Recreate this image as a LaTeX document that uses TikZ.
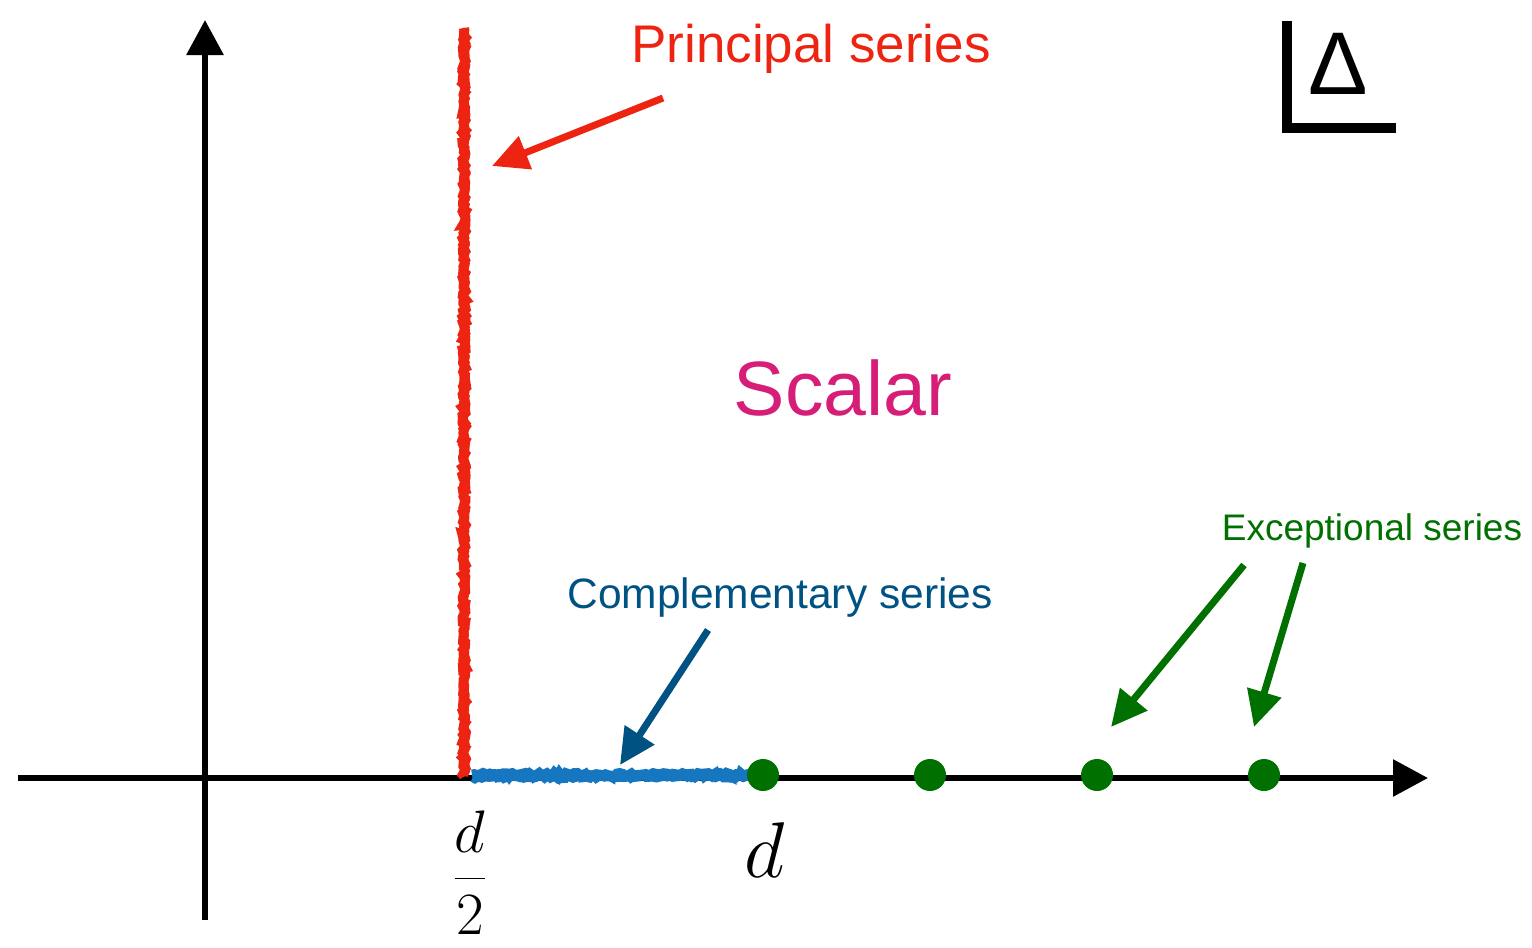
\documentclass[tikz,border=0pt]{standalone}
\usepackage{fix-cm}
\usepackage{amsmath}
\usepackage{fontspec}
\setmainfont{Liberation Sans}
\usetikzlibrary{arrows.meta,positioning,calc,decorations.pathmorphing}

\definecolor{prinred}{RGB}{238,36,18}
\definecolor{compblue}{RGB}{0,82,130}
\definecolor{compline}{RGB}{22,118,192}
\definecolor{excgreen}{RGB}{0,112,0}
\definecolor{scalarmag}{RGB}{214,30,120}

\begin{document}
\begin{tikzpicture}[
  x=1pt, y=-1pt,
  axis/.style={line width=6pt, -{Triangle[length=35pt, width=36pt]}},
  pointer/.style={line width=7pt, -{Triangle[length=36pt, width=34pt]}},
  rough/.style={decorate, decoration={random steps, segment length=2.5pt, amplitude=1.5pt}},
  lbl/.style={inner sep=0pt, anchor=base},
  dot/.style={circle, fill=excgreen, inner sep=0pt, minimum size=32pt}
]
\pgfmathsetseed{7}
\useasboundingbox (0,0) rectangle (1532,948);

% Axes
\coordinate (xstart) at (18,778);
\coordinate (xend) at (1428,778);
\coordinate (ystart) at (205,920);
\coordinate (yend) at (205,20);
\draw[axis] (xstart) -- (xend);
\draw[axis] (ystart) -- (yend);

% Series lines
\coordinate (half) at (464,776);
\coordinate (top) at (464,28);
\coordinate (compend) at (752,775);
\draw[compline, line width=11pt, rough] ($(half)+(8,-1)$) -- (compend);
\draw[compline, line width=6pt, rough] ($(half)+(8,3)$) -- ($(compend)+(0,3)$);
\draw[prinred, line width=10pt, rough] (half) -- (top);
\draw[prinred, line width=6pt, rough] ($(half)+(2,0)$) -- ($(top)+(2,0)$);

% Exceptional points
\node[dot] (p1) at (763,775) {};
\node[dot] (p2) at (930,775) {};
\node[dot] (p3) at (1097,775) {};
\node[dot] (p4) at (1264,775) {};

% Axis labels
\node[inner sep=0pt, font=\fontsize{60}{70}\selectfont] (dhalf) at (470,873) {$\dfrac{d}{2}$};
\node[lbl, font=\fontsize{79}{90}\selectfont] (dfull) at (765,877) {$d$};

% Texts
\node[lbl, text=prinred, font=\fontsize{53}{60}\selectfont] (principal) at (811,62) {Principal series};
\node[lbl, text=scalarmag, font=\fontsize{77}{90}\selectfont] (scalar) at (843,415) {Scalar};
\node[lbl, text=compblue, font=\fontsize{42.5}{50}\selectfont] (comp) at (780,608) {Complementary series};
\node[lbl, text=excgreen, font=\fontsize{37}{44}\selectfont] (exc) at (1372,540) {Exceptional series};

% Delta label
\node[lbl, font=\fontsize{89}{100}\selectfont] (delta) at (1338,94) {Δ};
\draw[line width=10pt] (1287,21) -- (1287,128) -- (1396,128);

% Pointers
\coordinate (prinfrom) at (663,98);
\coordinate (printo) at (492,166);
\coordinate (compfrom) at (708,630);
\coordinate (compto) at (620,765);
\coordinate (excfromA) at (1244,565);
\coordinate (exctoA) at (1111,727);
\coordinate (excfromB) at (1303,563);
\coordinate (exctoB) at (1254,727);
\draw[pointer, prinred] (prinfrom) -- (printo);
\draw[pointer, compblue] (compfrom) -- (compto);
\draw[pointer, excgreen] (excfromA) -- (exctoA);
\draw[pointer, excgreen] (excfromB) -- (exctoB);

\end{tikzpicture}
\end{document}
